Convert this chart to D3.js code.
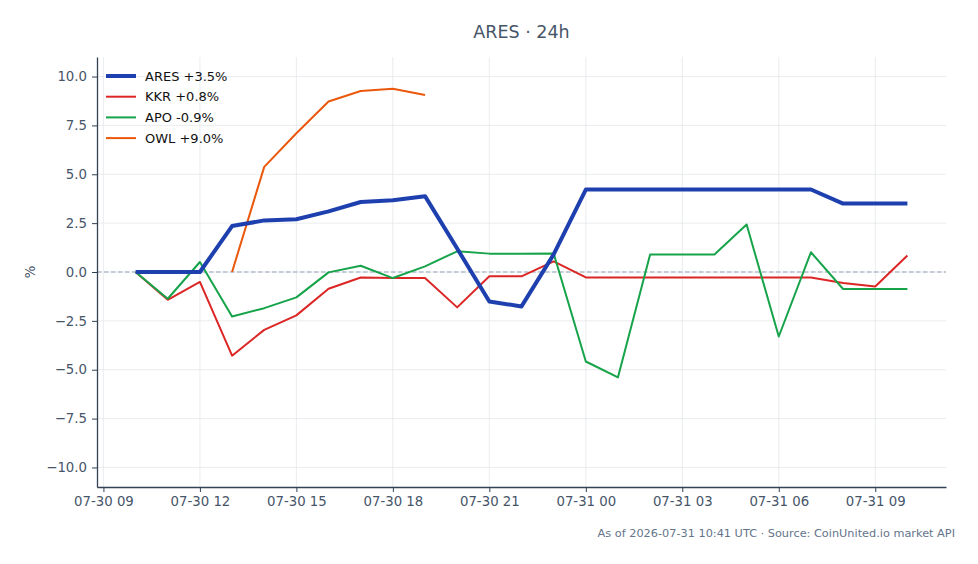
<!DOCTYPE html>
<html>
<head>
<meta charset="utf-8">
<script src="https://cdn.jsdelivr.net/npm/d3@7"></script>
<style>
  html, body { margin: 0; padding: 0; background: #ffffff; }
  svg { display: block; font-family: "DejaVu Sans", sans-serif; }
</style>
</head>
<body>
<svg id="chart" width="978" height="564"></svg>
<script>
const times = [
  "2026-07-30T10:00Z","2026-07-30T11:00Z","2026-07-30T12:00Z","2026-07-30T13:00Z","2026-07-30T14:00Z",
  "2026-07-30T15:00Z","2026-07-30T16:00Z","2026-07-30T17:00Z","2026-07-30T18:00Z","2026-07-30T19:00Z",
  "2026-07-30T20:00Z","2026-07-30T21:00Z","2026-07-30T22:00Z","2026-07-30T23:00Z","2026-07-31T00:00Z",
  "2026-07-31T01:00Z","2026-07-31T02:00Z","2026-07-31T03:00Z","2026-07-31T04:00Z","2026-07-31T05:00Z",
  "2026-07-31T06:00Z","2026-07-31T07:00Z","2026-07-31T08:00Z","2026-07-31T09:00Z","2026-07-31T10:00Z"
];
const ares = [0, 0, 0, 2.35, 2.64, 2.70, 3.10, 3.58, 3.67, 3.88, 1.2, -1.51, -1.76, 0.9, 4.22,
              4.22, 4.22, 4.22, 4.22, 4.22, 4.22, 4.22, 3.5, 3.5, 3.5];
const kkr  = [0, -1.42, -0.51, -4.28, -2.96, -2.22, -0.86, -0.28, -0.31, -0.31, -1.81, -0.22, -0.22, 0.54, -0.28,
              -0.28, -0.28, -0.28, -0.28, -0.28, -0.28, -0.28, -0.56, -0.74, 0.84];
const apo  = [0, -1.37, 0.51, -2.28, -1.85, -1.30, -0.02, 0.32, -0.31, 0.29, 1.06, 0.94, 0.94, 0.95, -4.58,
              -5.39, 0.89, 0.89, 0.89, 2.43, -3.30, 1.01, -0.87, -0.87, -0.87];
const owl  = [null, null, null, 0, 5.38, 7.1, 8.72, 9.26, 9.38, 9.06, null, null, null, null, null,
              null, null, null, null, null, null, null, null, null, null];

const seriesNames = ["ARES", "KKR", "APO", "OWL"];
const seriesLabels = ["ARES +3.5%", "KKR +0.8%", "APO -0.9%", "OWL +9.0%"];
const seriesColors = ["#1e40af", "#dc2626", "#16a34a", "#ea580c"];
const seriesWidths = [4, 2, 2, 2];
const seriesValues = [ares, kkr, apo, owl];

const yTicks = [-10, -7.5, -5, -2.5, 0, 2.5, 5, 7.5, 10];
const titleText = "ARES · 24h";
const yLabel = "%";
const footerText = "As of 2026-07-31 10:41 UTC · Source: CoinUnited.io market API";

const svg = d3.select("#chart");
const m = { left: 97, right: 946, top: 57, bottom: 487 };

const parsed = times.map(t => new Date(t));
const x = d3.scaleUtc()
  .domain([d3.utcMinute.offset(parsed[0], -72), d3.utcMinute.offset(parsed[parsed.length - 1], 72)])
  .range([m.left, m.right]);
const y = d3.scaleLinear().domain([-11, 11]).range([m.bottom, m.top]);

const xTicks = d3.utcHour.every(3).range(x.domain()[0], x.domain()[1]);
const fmt = d3.utcFormat("%m-%d %H");

// grid
const grid = svg.append("g");
grid.selectAll("line.vx").data(xTicks).join("line")
  .attr("x1", d => x(d)).attr("x2", d => x(d))
  .attr("y1", m.top).attr("y2", m.bottom)
  .attr("stroke", "#e5e7eb").attr("stroke-width", 0.8);
grid.selectAll("line.hy").data(yTicks).join("line")
  .attr("x1", m.left).attr("x2", m.right)
  .attr("y1", d => y(d)).attr("y2", d => y(d))
  .attr("stroke", "#e5e7eb").attr("stroke-width", 0.8);

// zero line
svg.append("line")
  .attr("x1", m.left).attr("x2", m.right)
  .attr("y1", y(0)).attr("y2", y(0))
  .attr("stroke", "#94a3b8").attr("stroke-width", 1.1)
  .attr("stroke-dasharray", "4.5,2.5");

// axes
const axisColor = "#334155";
const tickTextColor = "#475569";
const xAxis = svg.append("g").attr("transform", `translate(0,${m.bottom})`)
  .call(d3.axisBottom(x).tickValues(xTicks).tickFormat(fmt).tickSize(5).tickPadding(5).tickSizeOuter(0));
const yAxis = svg.append("g").attr("transform", `translate(${m.left},0)`)
  .call(d3.axisLeft(y).tickValues(yTicks).tickFormat(d3.format(".1f")).tickSize(5).tickPadding(5).tickSizeOuter(0));
[xAxis, yAxis].forEach(a => {
  a.select(".domain").attr("stroke", axisColor).attr("stroke-width", 1.3);
  a.selectAll(".tick line").attr("stroke", axisColor).attr("stroke-width", 1);
  a.selectAll(".tick text").attr("fill", tickTextColor)
    .style("font-family", "DejaVu Sans").style("font-size", "13.3px");
});
yAxis.selectAll(".tick text").text(d => d3.format(".1f")(d).replace("-", "\u2212"));

// lines
const lineGen = d3.line()
  .defined(d => d.v !== null)
  .x(d => x(d.t)).y(d => y(d.v));
const order = [1, 2, 3, 0];
order.forEach(i => {
  const pts = parsed.map((t, j) => ({ t: t, v: seriesValues[i][j] }));
  svg.append("path").datum(pts)
    .attr("d", lineGen)
    .attr("fill", "none")
    .attr("stroke", seriesColors[i])
    .attr("stroke-width", seriesWidths[i])
    .attr("stroke-linejoin", "round")
    .attr("stroke-linecap", "butt");
});

// legend
const lg = svg.append("g");
seriesNames.forEach((n, i) => {
  const yy = 76 + i * 20.7;
  lg.append("line").attr("x1", 106).attr("x2", 136).attr("y1", yy).attr("y2", yy)
    .attr("stroke", seriesColors[i]).attr("stroke-width", seriesWidths[i]);
  lg.append("text").attr("x", 145).attr("y", yy).attr("dy", "0.35em")
    .attr("fill", "#111111").style("font-size", "13px").text(seriesLabels[i]);
});

// title
svg.append("text").attr("x", (m.left + m.right) / 2).attr("y", 38)
  .attr("text-anchor", "middle").attr("fill", "#475569")
  .style("font-size", "17.5px").text(titleText);

// y label
svg.append("text")
  .attr("transform", `translate(35,${y(0)}) rotate(-90)`)
  .attr("text-anchor", "middle").attr("fill", tickTextColor)
  .style("font-size", "13.3px").text(yLabel);

// footer
svg.append("text").attr("x", 955).attr("y", 537)
  .attr("text-anchor", "end").attr("fill", "#64748b")
  .style("font-size", "11.3px").text(footerText);
</script>
</body>
</html>
